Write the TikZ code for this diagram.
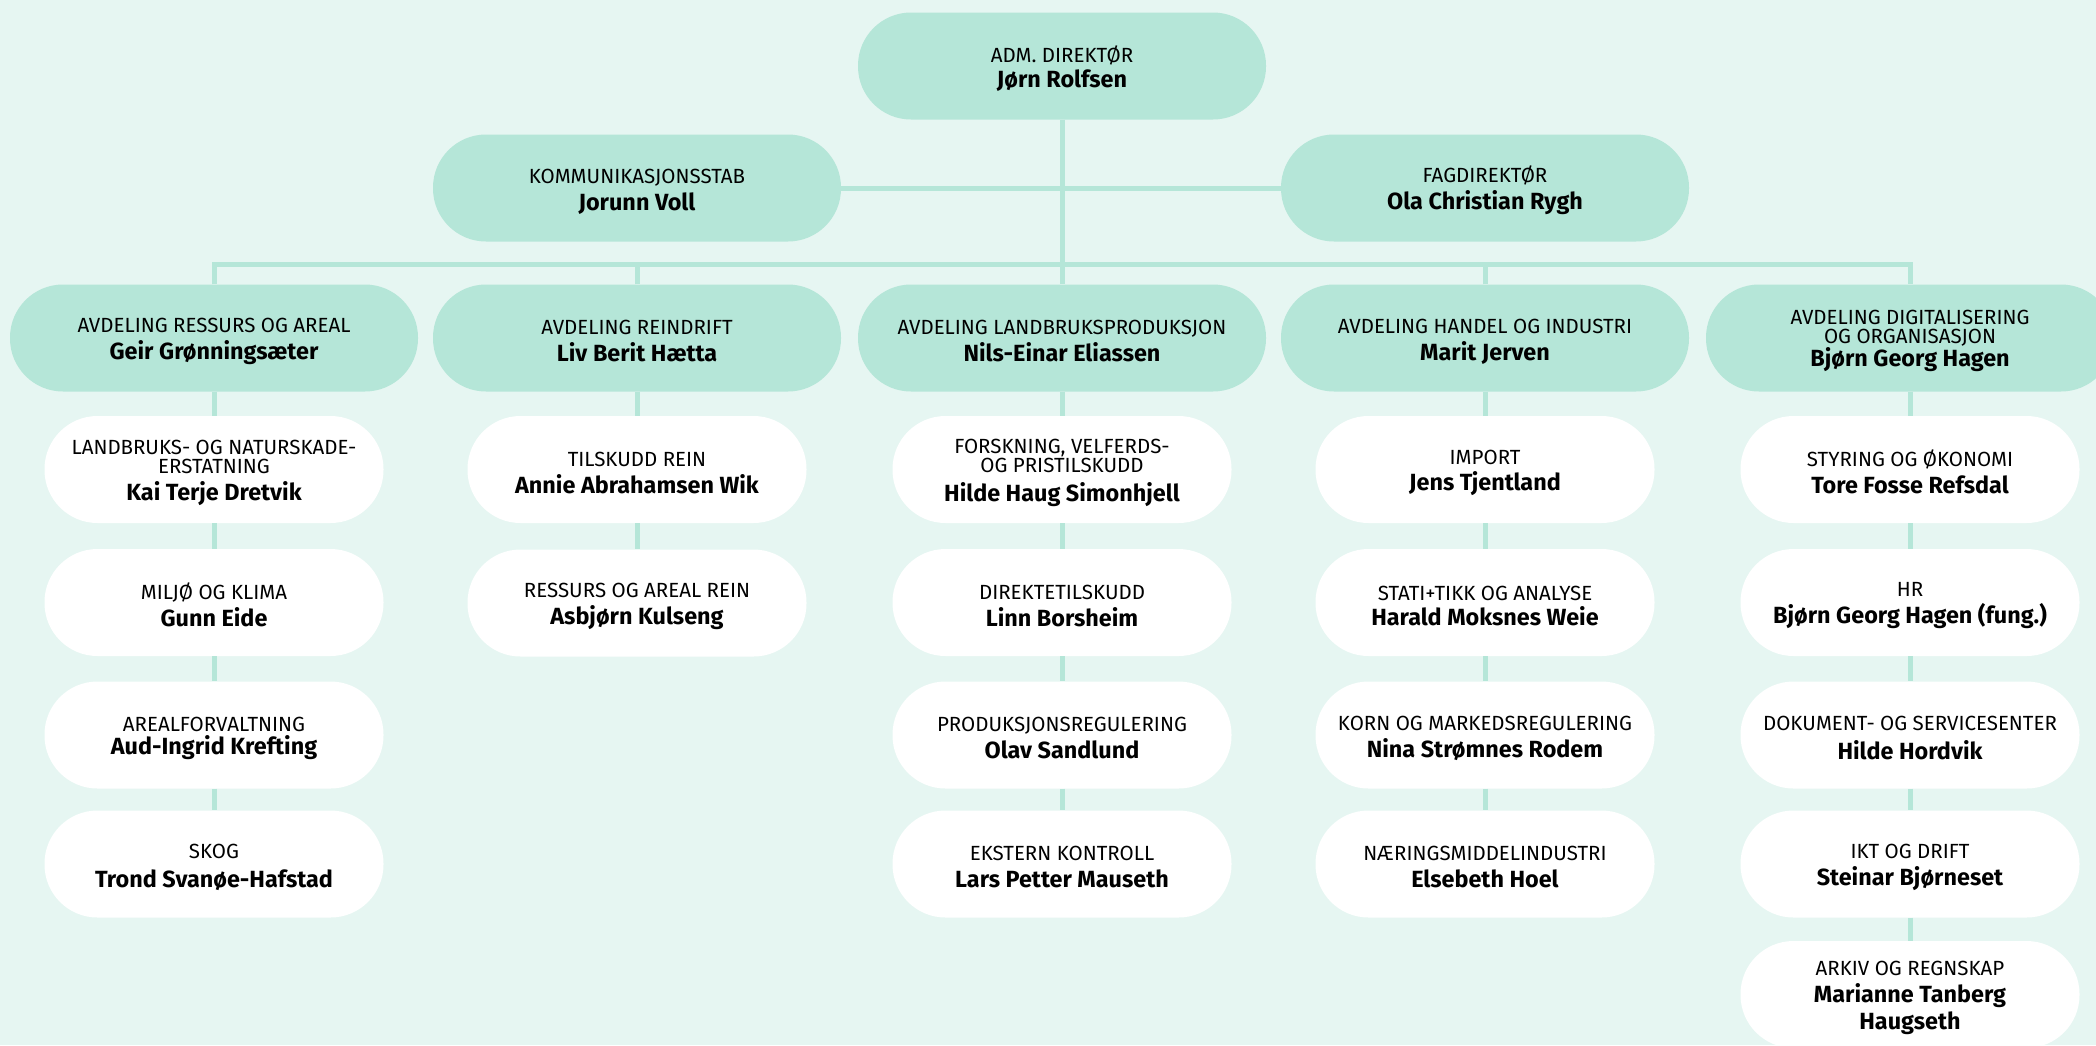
\documentclass[tikz,border=0pt]{standalone}
\usepackage{fontspec}
\setmainfont{Fira Sans}
\definecolor{bgmint}{HTML}{E6F6F2}
\definecolor{mint}{HTML}{B5E6D8}
\newcommand\pname{\fontsize{23.4}{18.5}\selectfont\bfseries}
\newcommand\boxfont{\fontsize{20.5}{18.5}\selectfont\lineskiplimit=-100pt\relax}
\newcommand\toppad{\rule{0pt}{21pt}}
\tikzset{
  pill/.style={rounded corners=53pt, minimum height=107pt, align=center, inner sep=0pt,
    font=\boxfont, text=black},
  leadbox/.style={pill, fill=mint, minimum width=408pt},
  unitbox/.style={pill, fill=white, minimum width=339pt},
  conn/.style={draw=mint, line width=5pt, line join=miter},
}
\begin{document}
\begin{tikzpicture}[x=1pt,y=-1pt]
\fill[bgmint] (0,0) rectangle (2096,1045);
\useasboundingbox (0,0) rectangle (2096,1045);

% top
\node[leadbox] (dir) at (1062,66) {\toppad ADM. DIREKTØR\\[6.5pt]{\pname Jørn Rolfsen}};
\node[leadbox] (kom) at (637,188) {\toppad KOMMUNIKASJONSSTAB\\[8.5pt]{\pname Jorunn Voll}};
\node[leadbox] (fag) at (1485,188) {\toppad FAGDIREKTØR\\[8.5pt]{\pname Ola Christian Rygh}};

% departments
\node[leadbox] (d1) at (214,338) {\toppad AVDELING RESSURS OG AREAL\\[9pt]{\pname Geir Grønningsæter}};
\node[leadbox] (d2) at (637,338) {\toppad AVDELING REINDRIFT\\[8.5pt]{\pname Liv Berit Hætta}};
\node[leadbox] (d3) at (1062,338) {\toppad AVDELING LANDBRUKSPRODUKSJON\\[8.5pt]{\pname Nils-Einar Eliassen}};
\node[leadbox] (d4) at (1485,338) {\toppad AVDELING HANDEL OG INDUSTRI\\[8.5pt]{\pname Marit Jerven}};
\node[leadbox] (d5) at (1910,338) {\toppad AVDELING DIGITALISERING\\OG ORGANISASJON\\[5pt]{\pname Bjørn Georg Hagen}};

% column 1
\node[unitbox] (u11) at (214,469.5) {\toppad LANDBRUKS- OG NATURSKADE-\\ERSTATNING\\[8.5pt]{\pname Kai Terje Dretvik}};
\node[unitbox] (u12) at (214,602.5) {\toppad MILJØ OG KLIMA\\[8.5pt]{\pname Gunn Eide}};
\node[unitbox] (u13) at (214,735) {\toppad AREALFORVALTNING\\[5pt]{\pname Aud-Ingrid Krefting}};
\node[unitbox] (u14) at (214,864) {\toppad SKOG\\[10.5pt]{\pname Trond Svanøe-Hafstad}};

% column 2
\node[unitbox] (u21) at (637,469.5) {\toppad TILSKUDD REIN\\[8.5pt]{\pname Annie Abrahamsen Wik}};
\node[unitbox] (u22) at (637,603) {\toppad RESSURS OG AREAL REIN\\[8.5pt]{\pname Asbjørn Kulseng}};

% column 3
\node[unitbox] (u31) at (1062,469.5) {\toppad FORSKNING, VELFERDS-\\OG PRISTILSKUDD\\[10.5pt]{\pname Hilde Haug Simonhjell}};
\node[unitbox] (u32) at (1062,602.5) {\toppad DIREKTETILSKUDD\\[8.5pt]{\pname Linn Borsheim}};
\node[unitbox] (u33) at (1062,735) {\toppad PRODUKSJONSREGULERING\\[8.5pt]{\pname Olav Sandlund}};
\node[unitbox] (u34) at (1062,864) {\toppad EKSTERN KONTROLL\\[8.5pt]{\pname Lars Petter Mauseth}};

% column 4
\node[unitbox] (u41) at (1485,469.5) {\toppad IMPORT\\[7.5pt]{\pname Jens Tjentland}};
\node[unitbox] (u42) at (1485,602.5) {\toppad STATI+TIKK OG ANALYSE\\[6pt]{\pname Harald Moksnes Weie}};
\node[unitbox] (u43) at (1485,735) {\toppad KORN OG MARKEDSREGULERING\\[8.5pt]{\pname Nina Strømnes Rodem}};
\node[unitbox] (u44) at (1485,864) {\toppad NÆRINGSMIDDELINDUSTRI\\[8.5pt]{\pname Elsebeth Hoel}};

% column 5
\node[unitbox] (u51) at (1910,469.5) {\toppad STYRING OG ØKONOMI\\[8.5pt]{\pname Tore Fosse Refsdal}};
\node[unitbox] (u52) at (1910,602.5) {\toppad HR\\[8.5pt]{\pname Bjørn Georg Hagen (fung.)}};
\node[unitbox] (u53) at (1910,735) {\toppad DOKUMENT- OG SERVICESENTER\\[10.5pt]{\pname Hilde Hordvik}};
\node[unitbox] (u54) at (1910,864) {\toppad IKT OG DRIFT\\[9pt]{\pname Steinar Bjørneset}};
\node[unitbox] (u55) at (1910,994.5) {\toppad ARKIV OG REGNSKAP\\[8.5pt]{\pname Marianne Tanberg}\\[8.5pt]{\pname Haugseth}};

% connectors
\coordinate (bus) at (0,264);
\draw[conn] (dir.south) -- (d3.north);
\draw[conn] (kom.east) -- (fag.west);
\draw[conn] (d1.north) -- (d1.north |- bus) -| (d5.north);
\draw[conn] (d2.north) -- (d2.north |- bus);
\draw[conn] (d4.north) -- (d4.north |- bus);

\draw[conn] (d1.south) -- (u11.north);
\draw[conn] (u11.south) -- (u12.north);
\draw[conn] (u12.south) -- (u13.north);
\draw[conn] (u13.south) -- (u14.north);

\draw[conn] (d2.south) -- (u21.north);
\draw[conn] (u21.south) -- (u22.north);

\draw[conn] (d3.south) -- (u31.north);
\draw[conn] (u31.south) -- (u32.north);
\draw[conn] (u32.south) -- (u33.north);
\draw[conn] (u33.south) -- (u34.north);

\draw[conn] (d4.south) -- (u41.north);
\draw[conn] (u41.south) -- (u42.north);
\draw[conn] (u42.south) -- (u43.north);
\draw[conn] (u43.south) -- (u44.north);

\draw[conn] (d5.south) -- (u51.north);
\draw[conn] (u51.south) -- (u52.north);
\draw[conn] (u52.south) -- (u53.north);
\draw[conn] (u53.south) -- (u54.north);
\draw[conn] (u54.south) -- (u55.north);
\end{tikzpicture}
\end{document}
